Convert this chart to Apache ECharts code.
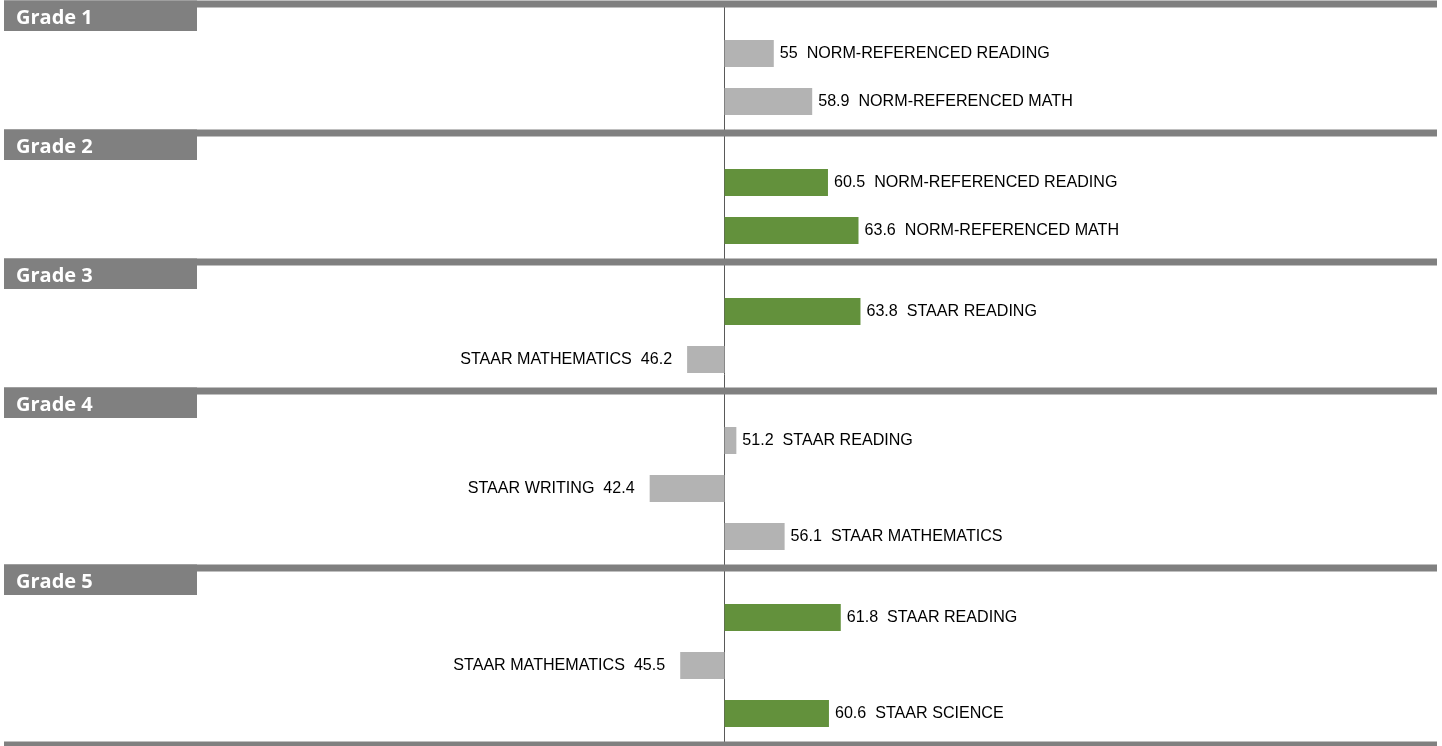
<!DOCTYPE html>
<html>
<head>
<meta charset="utf-8">
<script src="https://cdn.jsdelivr.net/npm/echarts@6/dist/echarts.min.js"></script>
<style>
  html, body { margin: 0; padding: 0; background: #ffffff; }
  #chart { width: 1442px; height: 746px; }
</style>
</head>
<body>
<div id="chart"></div>
<script>
// ---------------- data ----------------
const grades = ['Grade 1', 'Grade 2', 'Grade 3', 'Grade 4', 'Grade 5'];
const rowGrade = [0, 0, 1, 1, 2, 2, 3, 3, 3, 4, 4, 4];
const rowLabels = [
  'NORM-REFERENCED READING', 'NORM-REFERENCED MATH',
  'NORM-REFERENCED READING', 'NORM-REFERENCED MATH',
  'STAAR READING', 'STAAR MATHEMATICS',
  'STAAR READING', 'STAAR WRITING', 'STAAR MATHEMATICS',
  'STAAR READING', 'STAAR MATHEMATICS', 'STAAR SCIENCE'
];
const rowValues = [55, 58.9, 60.5, 63.6, 63.8, 46.2, 51.2, 42.4, 56.1, 61.8, 45.5, 60.6];
const baseline = 50;
const greenThreshold = 60;

// ---------------- layout (row units) ----------------
const HEAD_GAP = 1.03125;   // separator line -> first row
const TAIL_GAP = 0.65625;   // last row -> next separator line
const ROW_STEP = 1;
const BAR_THICK = 0.5625;

const linePos = [];
const rowPos = [];
let cur = 0;
grades.forEach((g, gi) => {
  linePos.push(cur);
  cur += HEAD_GAP;
  let last = cur;
  let first = true;
  rowGrade.forEach((rg, ri) => {
    if (rg !== gi) return;
    if (!first) cur += ROW_STEP;
    first = false;
    rowPos[ri] = cur;
    last = cur;
  });
  cur = last + TAIL_GAP;
});
const bottomPos = cur;

const GREEN = '#63913c';
const GRAY = '#b3b3b3';
const SEP = '#808080';
const FONT = '"Liberation Sans", Arial, sans-serif';

const barData = rowValues.map((v, i) => [v, rowPos[i]]);
const sepData = linePos.map((p) => [baseline, p]).concat([[baseline, bottomPos]]);

const chart = echarts.init(document.getElementById('chart'), null, { renderer: 'canvas' });

chart.setOption({
  animation: false,
  backgroundColor: '#ffffff',
  grid: { left: 4, right: 5, top: 0, bottom: 0 },
  xAxis: {
    type: 'value', min: -23.15, max: 122.33,
    axisLine: { show: false }, axisTick: { show: false },
    axisLabel: { show: false }, splitLine: { show: false }
  },
  yAxis: {
    type: 'value', inverse: true, min: -4 / 48, max: -4 / 48 + 746 / 48,
    axisLine: { show: false }, axisTick: { show: false },
    axisLabel: { show: false }, splitLine: { show: false }
  },
  series: [
    {
      type: 'custom',
      name: 'axis',
      z: 1,
      silent: true,
      clip: false,
      data: [[baseline, 0]],
      renderItem: function (params, api) {
        const top = api.coord([baseline, linePos[0]]);
        const bot = api.coord([baseline, bottomPos]);
        const x = Math.floor(top[0]) + 0.5;
        return {
          type: 'line',
          shape: { x1: x, y1: top[1], x2: x, y2: bot[1] },
          style: { stroke: '#595959', lineWidth: 1 }
        };
      }
    },
    {
      type: 'custom',
      name: 'bars',
      z: 2,
      silent: true,
      clip: false,
      data: barData,
      renderItem: function (params, api) {
        const v = api.value(0);
        const y = api.value(1);
        const label = rowLabels[params.dataIndex];
        const p0 = api.coord([baseline, y]);
        const p1 = api.coord([v, y]);
        const h = api.size([0, BAR_THICK])[1];
        const pos = v >= baseline;
        const x0 = Math.min(p0[0], p1[0]);
        const w = Math.abs(p1[0] - p0[0]);
        const color = v >= greenThreshold ? GREEN : GRAY;
        const text = pos ? (String(v) + '  ' + label) : (label + '  ' + String(v));
        return {
          type: 'group',
          children: [
            {
              type: 'rect',
              shape: { x: x0, y: p0[1] - h / 2, width: w, height: h },
              style: { fill: color }
            },
            {
              type: 'text',
              x: pos ? p1[0] + 6 : p1[0] - 15,
              y: p0[1] + 0.5,
              style: {
                text: text,
                fill: '#000000',
                font: '16.1px ' + FONT,
                align: pos ? 'left' : 'right',
                verticalAlign: 'middle'
              }
            }
          ]
        };
      }
    },
    {
      type: 'custom',
      name: 'separators',
      z: 3,
      silent: true,
      clip: false,
      data: sepData,
      renderItem: function (params, api) {
        const y = api.coord([baseline, api.value(1)])[1];
        const cs = params.coordSys;
        const name = grades[params.dataIndex];
        const children = [
          {
            type: 'rect',
            shape: { x: cs.x, y: y - 3.5, width: cs.width, height: 7 },
            style: { fill: SEP }
          }
        ];
        if (name) {
          children.push({
            type: 'rect',
            shape: { x: cs.x, y: y - 3.5, width: 193, height: 30.5 },
            style: { fill: SEP }
          });
          children.push({
            type: 'text',
            x: cs.x + 12,
            y: y + 14.5,
            style: {
              text: name,
              fill: '#ffffff',
              font: 'bold 20px "Open Sans", "Noto Sans", sans-serif',
              align: 'left',
              verticalAlign: 'middle'
            }
          });
        }
        return { type: 'group', children: children };
      }
    }
  ]
});
</script>
</body>
</html>
